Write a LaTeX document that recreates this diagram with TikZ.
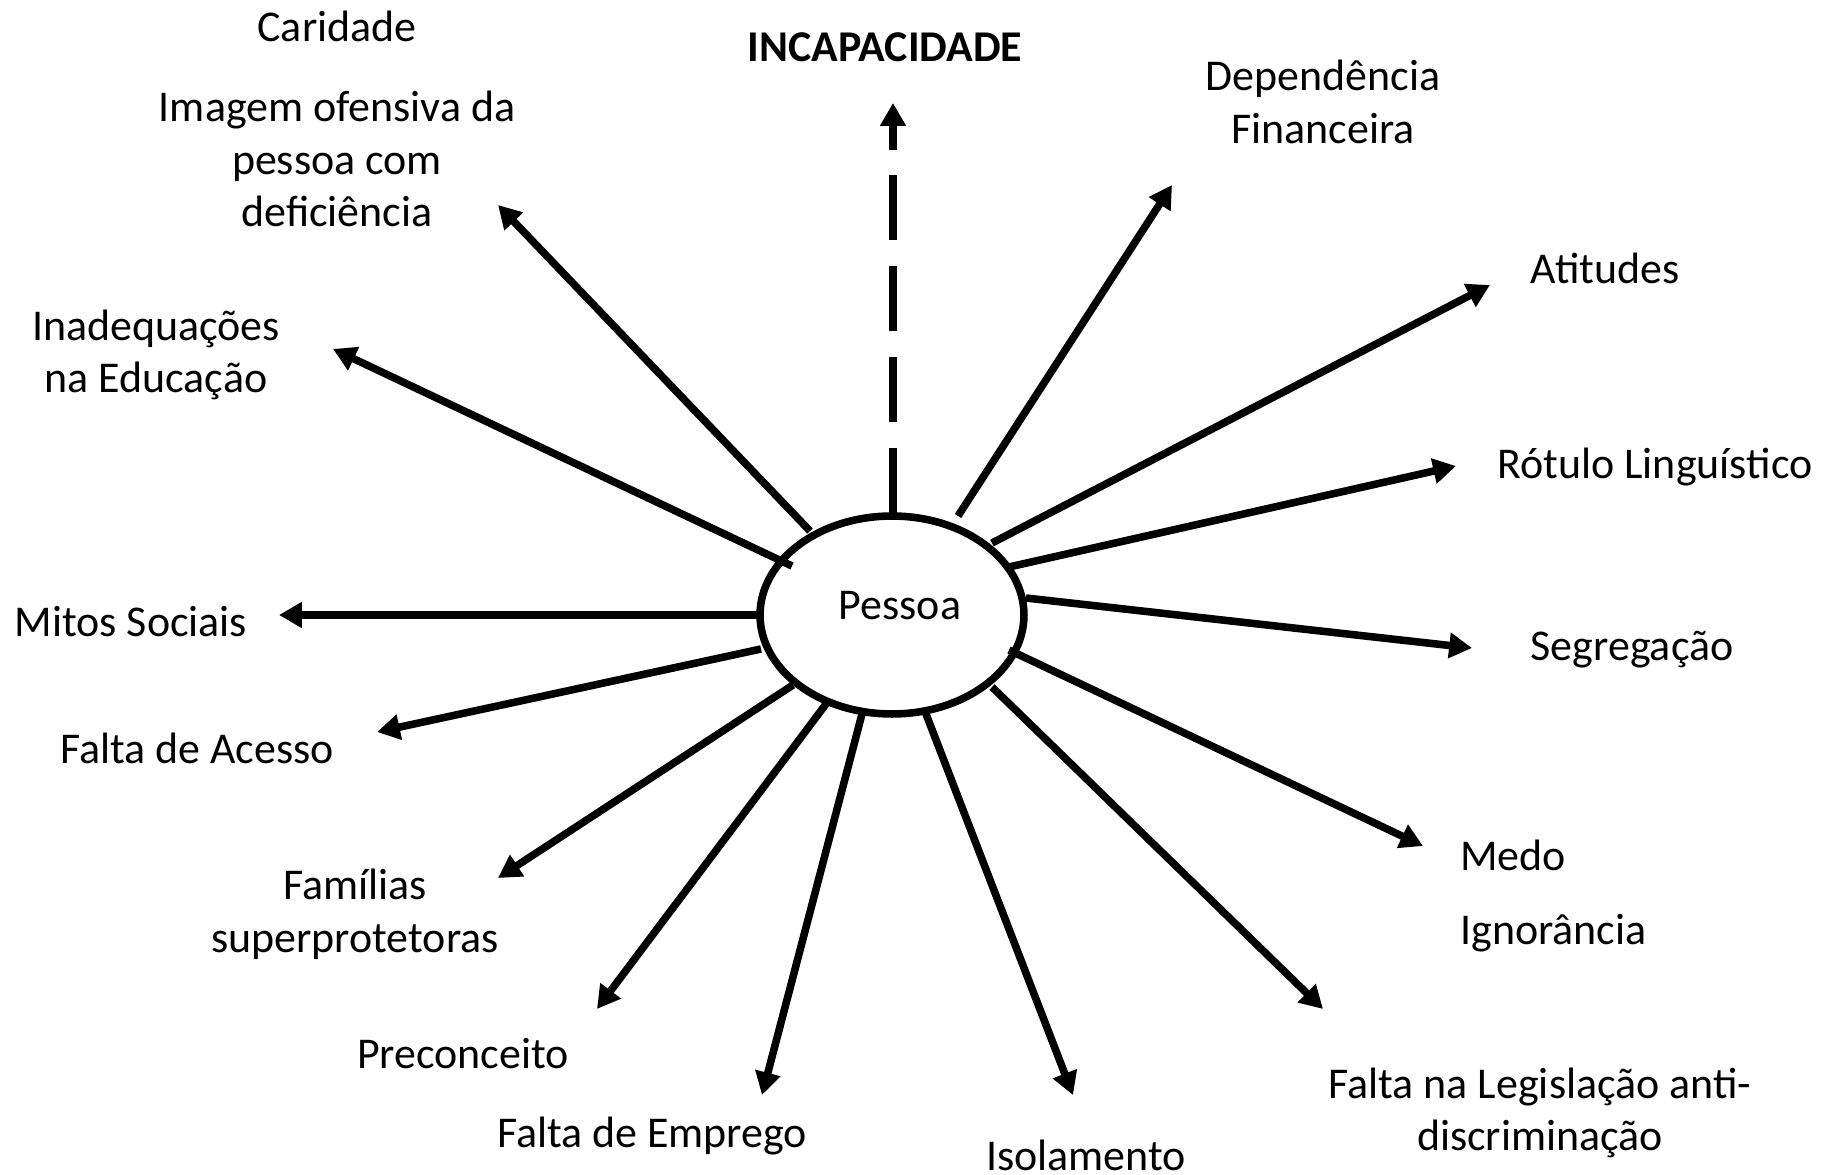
\documentclass[tikz,border=0pt]{standalone}
\usepackage{fontspec}
\setmainfont{Carlito}
\usetikzlibrary{arrows.meta,shapes.geometric}
\begin{document}
\begin{tikzpicture}[x=0.02cm,y=-0.02cm,
  lbl/.style={font=\fontsize{25}{30}\selectfont, align=center, inner sep=0pt},
  arr/.style={line width=4.3pt, -{Triangle[length=13pt,width=14pt]}},
  dasharr/.style={arr, dash pattern=on 37pt off 14.7pt}]
\useasboundingbox (0,0) rectangle (1836,1175);
\fill[white] (0,0) rectangle (1836,1175);

% central ellipse
\node[ellipse, draw, line width=4.3pt, inner sep=0pt,
      minimum width=5.28cm, minimum height=3.96cm] (p) at (892,615) {};
\node[lbl] (pessoa) at (900,606) {Pessoa};

% labels
\node[lbl] (caridade) at (337,26) {Caridade};
\node[lbl, font=\fontsize{25}{30}\selectfont\bfseries] (incap) at (885,47) {INCAPACIDADE};
\node[lbl] (imagem) at (337,159) {Imagem ofensiva da\\pessoa com\\deficiência};
\node[lbl] (depend) at (1323,102) {Dependência\\Financeira};
\node[lbl] (atitudes) at (1605,268) {Atitudes};
\node[lbl] (inadeq) at (156,355) {Inadequações\\na Educação};
\node[lbl] (rotulo) at (1655,467) {Rótulo Linguístico};
\node[lbl] (mitos) at (131,622) {Mitos Sociais};
\node[lbl] (segreg) at (1632,650) {Segregação};
\node[lbl] (acesso) at (197,748) {Falta de Acesso};
\node[lbl, anchor=west] (medo) at (1460,855) {Medo};
\node[lbl, anchor=west] (ignor) at (1460,933) {Ignorância};
\node[lbl] (familias) at (355,914) {Famílias\\superprotetoras};
\node[lbl] (precon) at (463,1054) {Preconceito};
\node[lbl] (emprego) at (652,1136) {Falta de Emprego};
\node[lbl] (isol) at (1086,1155) {Isolamento};
\node[lbl] (legis) at (1540,1113) {Falta na Legislação anti-\\discriminação};

% arrow start and tip points
\coordinate (s1) at (893,513);   \coordinate (t1) at (893,103);
\coordinate (s2) at (810,531);   \coordinate (t2) at (498,205);
\coordinate (s3) at (792,566);   \coordinate (t3) at (333,349);
\coordinate (s4) at (757,615);   \coordinate (t4) at (279,615);
\coordinate (s5) at (761,649);   \coordinate (t5) at (377,732);
\coordinate (s6) at (793,685);   \coordinate (t6) at (498,878);
\coordinate (s7) at (826,704);   \coordinate (t7) at (597,1009);
\coordinate (s8) at (862,714);   \coordinate (t8) at (762,1095);
\coordinate (s9) at (926,714);   \coordinate (t9) at (1073,1095);
\coordinate (s10) at (992,687);  \coordinate (t10) at (1323,1009);
\coordinate (s11) at (1009,650); \coordinate (t11) at (1423,846);
\coordinate (s12) at (1026,598); \coordinate (t12) at (1472,648);
\coordinate (s13) at (1009,567); \coordinate (t13) at (1456,466);
\coordinate (s14) at (992,543);  \coordinate (t14) at (1490,285);
\coordinate (s15) at (958,516);  \coordinate (t15) at (1172,185);

\draw[dasharr] (s1) -- (t1);
\foreach \i in {2,...,15} { \draw[arr] (s\i) -- (t\i); }
\end{tikzpicture}
\end{document}
